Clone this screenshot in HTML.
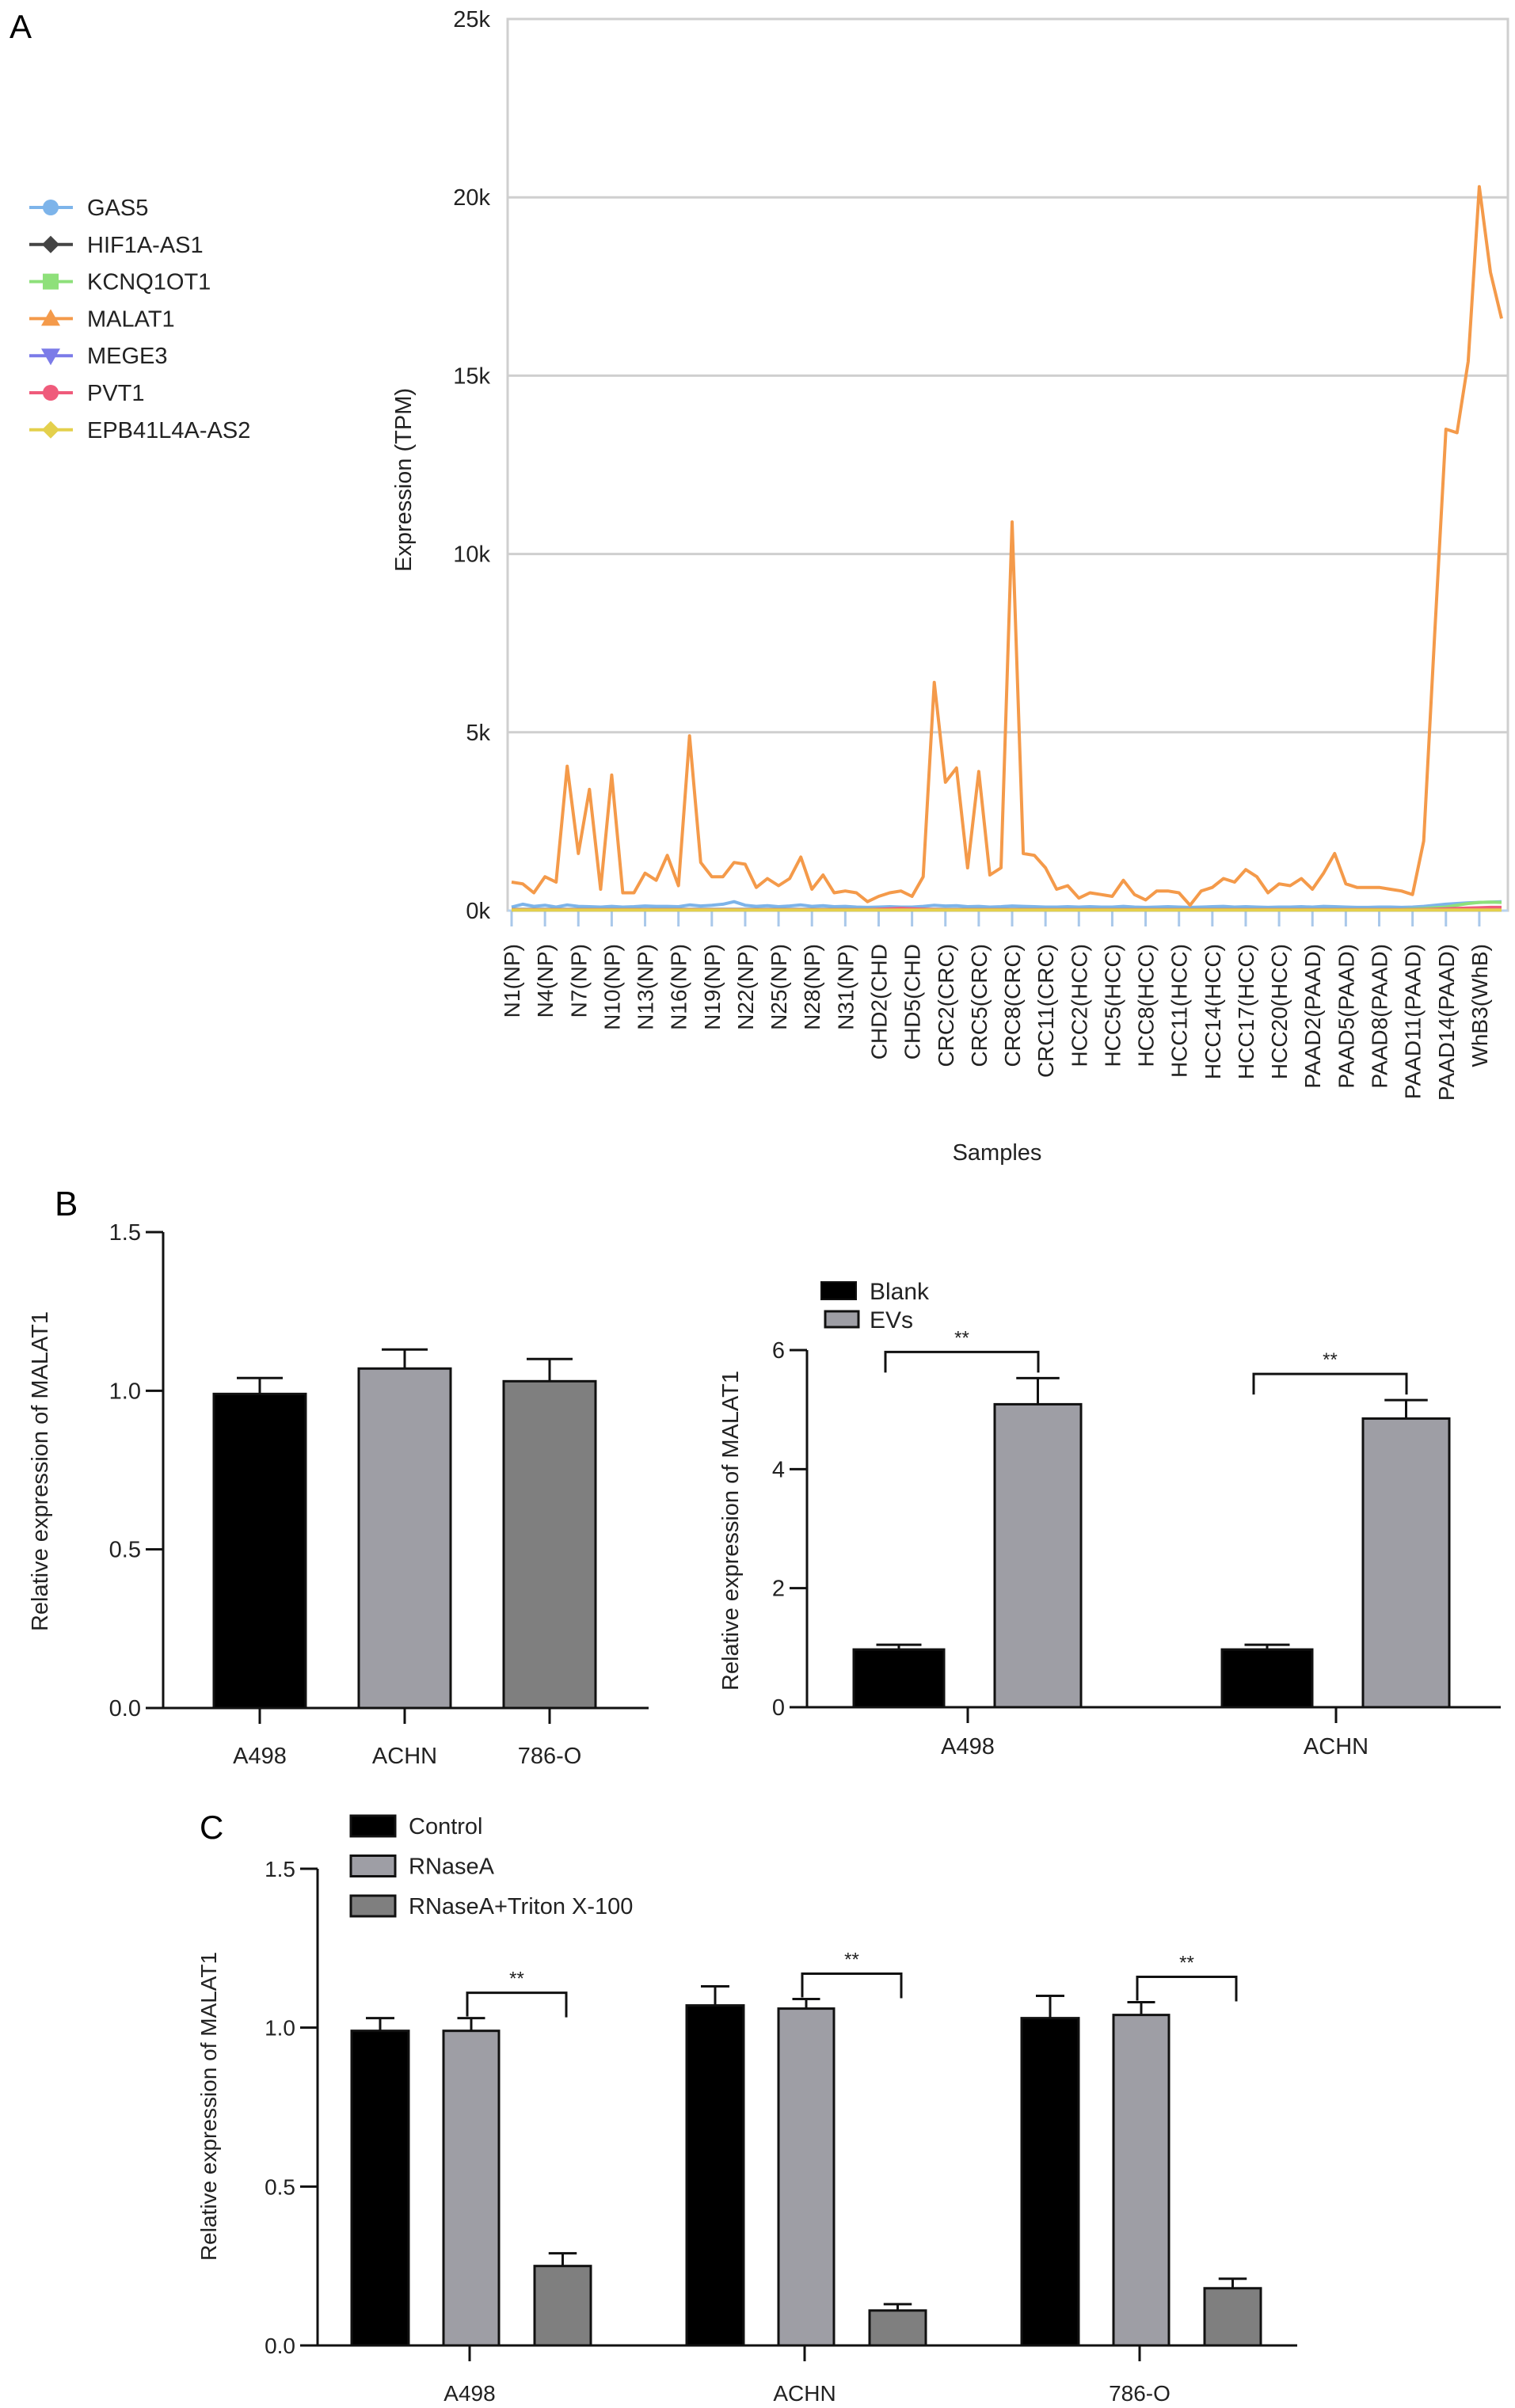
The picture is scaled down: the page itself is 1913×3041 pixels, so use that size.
<!DOCTYPE html>
<html><head><meta charset="utf-8">
<style>
html,body{margin:0;padding:0;background:#fff;}
svg{display:block;font-family:"Liberation Sans",Arial,sans-serif;}
</style></head>
<body>
<svg id="fig" width="1913" height="3041" viewBox="0 0 1913 3041" xmlns="http://www.w3.org/2000/svg">
<text x="12" y="48" font-size="42">A</text>
<text x="69" y="1535" font-size="44">B</text>
<text x="252" y="2322" font-size="42">C</text>
<g id="pa"></g>
<g id="pb1"></g>
<g id="pb2"></g>
<g id="pc"></g>
</svg>
<script>
// ---------- Panel A data ----------
const aTickLabels = ["N1(NP)","N4(NP)","N7(NP)","N10(NP)","N13(NP)","N16(NP)","N19(NP)","N22(NP)","N25(NP)","N28(NP)","N31(NP)","CHD2(CHD","CHD5(CHD","CRC2(CRC)","CRC5(CRC)","CRC8(CRC)","CRC11(CRC)","HCC2(HCC)","HCC5(HCC)","HCC8(HCC)","HCC11(HCC)","HCC14(HCC)","HCC17(HCC)","HCC20(HCC)","PAAD2(PAAD)","PAAD5(PAAD)","PAAD8(PAAD)","PAAD11(PAAD)","PAAD14(PAAD)","WhB3(WhB)"];
const aYTicks = [0,5000,10000,15000,20000,25000];
const aYTickLabels = ["0k","5k","10k","15k","20k","25k"];
const malat1 = [800,750,500,950,800,4050,1600,3400,600,3800,500,500,1050,850,1550,700,4900,1350,950,950,1350,1300,650,900,700,900,1500,600,1000,500,550,500,250,400,500,550,400,950,6400,3600,4000,1200,3900,1000,1200,10900,1600,1550,1200,600,700,350,500,450,400,850,450,300,550,550,500,150,550,650,900,800,1150,950,500,750,700,900,600,1050,1600,750,650,650,650,600,550,450,1950,7800,13500,13400,15400,20300,17900,16600];
const gas5 = [100,180,120,150,100,160,120,110,100,120,100,110,130,120,120,110,160,130,150,180,250,150,120,140,110,130,160,120,140,110,120,100,90,100,110,100,100,120,150,130,140,110,120,100,110,130,120,110,100,100,110,100,110,100,100,120,100,90,100,110,100,90,100,110,120,100,110,100,90,100,100,110,100,120,110,100,90,90,100,100,90,100,120,150,180,200,220,230,240,250];
const kcnq = [40,40,40,40,40,40,40,40,40,40,40,40,40,40,40,40,40,40,40,40,40,40,40,40,40,40,40,40,40,40,40,40,40,40,40,40,40,40,40,40,40,40,40,40,40,40,40,40,40,40,40,40,40,40,40,40,40,40,40,40,40,40,40,40,40,40,40,40,40,40,40,40,40,40,40,40,40,40,40,40,40,50,60,80,100,150,200,230,240,230];
const hif1a = [20,20,20,20,20,20,20,20,20,20,20,20,20,20,20,20,20,20,20,20,20,20,20,20,20,20,20,20,20,20,20,20,20,20,20,20,20,20,20,20,20,20,20,20,20,20,20,20,20,20,20,20,20,20,20,20,20,20,20,20,20,20,20,20,20,20,20,20,20,20,20,20,20,20,20,20,20,20,20,20,20,20,20,20,20,20,20,20,20,20];
const mege3 = [30,30,30,30,30,30,30,30,30,30,30,30,30,30,30,30,30,30,30,30,30,30,30,30,30,30,30,30,30,30,30,30,30,30,30,30,30,30,30,30,30,30,30,30,30,30,30,30,30,30,30,30,30,30,30,30,30,30,30,30,30,30,30,30,30,30,30,30,30,30,30,30,30,30,30,30,30,30,30,30,30,30,30,30,30,30,30,30,30,30];
const pvt1 = [25,25,25,25,25,25,25,25,25,25,25,25,25,25,25,25,25,25,25,25,25,25,25,25,25,25,25,25,25,25,25,25,25,40,50,60,50,40,30,25,25,25,25,25,25,25,25,25,25,25,25,25,25,25,25,25,25,25,25,25,25,25,25,25,25,25,25,25,25,25,25,25,25,25,25,25,25,25,25,25,25,25,30,40,50,60,70,80,90,90];
const epb = [15,15,15,15,15,15,15,15,15,15,15,15,15,15,15,15,15,15,15,15,15,15,15,15,15,15,15,15,15,15,15,15,15,15,15,15,15,15,15,15,15,15,15,15,15,15,15,15,15,15,15,15,15,15,15,15,15,15,15,15,15,15,15,15,15,15,15,15,15,15,15,15,15,15,15,15,15,15,15,15,15,15,15,15,15,15,15,15,15,15];
const legendNames = ["GAS5","HIF1A-AS1","KCNQ1OT1","MALAT1","MEGE3","PVT1","EPB41L4A-AS2"];
const legendColors = ["#7db4ea","#444444","#8ee07a","#f49a4a","#7b7be8","#ef5b7b","#e4d04c"];

// ---------- Panel B data ----------
const b1Cats = ["A498","ACHN","786-O"];
const b1Vals = [0.99,1.07,1.03];
const b1Errs = [0.05,0.06,0.07];
const b1Ticks = [0,0.5,1.0,1.5];
const b1TickLabels = ["0.0","0.5","1.0","1.5"];
const b2Cats = ["A498","ACHN"];
const b2Blank = [0.97,0.97];
const b2BlankErr = [0.08,0.08];
const b2EVs = [5.09,4.85];
const b2EVsErr = [0.44,0.31];
const b2Ticks = [0,2,4,6];
const b2TickLabels = ["0","2","4","6"];

// ---------- Panel C data ----------
const cCats = ["A498","ACHN","786-O"];
const cControl = [0.99,1.07,1.03];
const cControlErr = [0.04,0.06,0.07];
const cRNase = [0.99,1.06,1.04];
const cRNaseErr = [0.04,0.03,0.04];
const cTriton = [0.25,0.11,0.18];
const cTritonErr = [0.04,0.02,0.03];
const cTicks = [0,0.5,1.0,1.5];
const cTickLabels = ["0.0","0.5","1.0","1.5"];

const NS = "http://www.w3.org/2000/svg";
function mk(parent, tag, attrs, txt){
  const e = document.createElementNS(NS, tag);
  for (const k in attrs) e.setAttribute(k, attrs[k]);
  if (txt !== undefined) e.textContent = txt;
  parent.appendChild(e);
  return e;
}

// ===== Panel A =====
(function(){
  const g = document.getElementById('pa');
  const L=641, R=1904, T=24, B=1150, N=malat1.length;
  const x = i => 646 + i*(1896-646)/(N-1);
  const y = v => B - v/25000*(B-T);
  const frame = mk(g,'rect',{x:L,y:T,width:R-L,height:B-T,fill:'none',stroke:'#cfcfcf','stroke-width':3});
  
  
  aYTicks.forEach((v,i)=>{
    if (v>0 && v<25000){
      const gl = mk(g,'line',{x1:L,x2:R,y1:y(v),y2:y(v),stroke:'#cfcfcf','stroke-width':3});
      
      
    }
    const t = mk(g,'text',{x:619,y:y(v)+10,'font-size':29,'text-anchor':'end',fill:'#222'},aYTickLabels[i]);
    
    
  });
  const ax = mk(g,'line',{x1:L,x2:R,y1:B,y2:B,stroke:'#b9d3ee','stroke-width':3});
  
  
  aTickLabels.forEach((lab,k)=>{
    const xi = x(k*3);
    const tk = mk(g,'line',{x1:xi,x2:xi,y1:B,y2:B+20,stroke:'#a9c8ea','stroke-width':3});
    
    
    const t = mk(g,'text',{x:0,y:0,'font-size':28,'text-anchor':'end',fill:'#222',transform:`translate(${xi+10},1192) rotate(-90)`},lab);
    
    
  });
  const series = [[gas5,0],[hif1a,1],[kcnq,2],[mege3,4],[pvt1,5],[epb,6],[malat1,3]];
  series.forEach(([arr,ci])=>{
    const d = arr.map((v,i)=>(i?'L':'M')+x(i).toFixed(1)+','+y(v).toFixed(1)).join(' ');
    const p = mk(g,'path',{d:d,fill:'none',stroke:legendColors[ci],'stroke-width':4,'stroke-linejoin':'round'});
    
    
  });
  legendNames.forEach((n,i)=>{
    const yy = 262 + i*46.8;
    const lg = mk(g,'g',{});
    
    
    mk(lg,'line',{x1:37,x2:92,y1:yy,y2:yy,stroke:legendColors[i],'stroke-width':4});
    const c = legendColors[i];
    if (i===0||i===5) mk(lg,'circle',{cx:64,cy:yy,r:10,fill:c});
    else if (i===1||i===6) mk(lg,'polygon',{points:`64,${yy-11} 75,${yy} 64,${yy+11} 53,${yy}`,fill:c});
    else if (i===2) mk(lg,'rect',{x:54,y:yy-10,width:20,height:20,fill:c});
    else if (i===3) mk(lg,'polygon',{points:`64,${yy-12} 76,${yy+9} 52,${yy+9}`,fill:c});
    else mk(lg,'polygon',{points:`64,${yy+12} 76,${yy-9} 52,${yy-9}`,fill:c});
    mk(lg,'text',{x:110,y:yy+10,'font-size':29,fill:'#222'},n);
  });
  const yt = mk(g,'text',{x:0,y:0,'font-size':29,'text-anchor':'middle',fill:'#222',transform:'translate(519,606) rotate(-90)'},'Expression (TPM)');
  
  
  const xt = mk(g,'text',{x:1259,y:1465,'font-size':29,'text-anchor':'middle',fill:'#222'},'Samples');
  
  
})();

function axes(g, ax, yB, yT, xR, ticks, labels, vmax, titleX, titleY, fs){
  const y = v => yB - v/vmax*(yB-yT);
  const yl = mk(g,'line',{x1:ax,x2:ax,y1:yB,y2:yT,stroke:'#111','stroke-width':3});
  
  
  const xl = mk(g,'line',{x1:ax,x2:xR,y1:yB,y2:yB,stroke:'#111','stroke-width':3});
  
  
  ticks.forEach((v,i)=>{
    mk(g,'line',{x1:ax-22,x2:ax,y1:y(v),y2:y(v),stroke:'#111','stroke-width':3});
    const t = mk(g,'text',{x:ax-28,y:y(v)+10,'font-size':fs,'text-anchor':'end',fill:'#222'},labels[i]);
    
    
  });
  const tt = mk(g,'text',{x:0,y:0,'font-size':fs,'text-anchor':'middle',fill:'#222',transform:`translate(${titleX},${titleY}) rotate(-90)`},'Relative expression of MALAT1');
  
  
  return y;
}
function bar(g, x0, x1, v, e, y, fill, name){
  const b = mk(g,'rect',{x:x0,y:y(v),width:x1-x0,height:y(0)-y(v),fill:fill,stroke:'#111','stroke-width':3});
  
  
  const xm=(x0+x1)/2, w=(x1-x0)*0.25;
  mk(g,'path',{d:`M${xm},${y(v)} V${y(v+e)} M${xm-w},${y(v+e)} H${xm+w}`,stroke:'#111','stroke-width':3,fill:'none'});
}
function bracket(g,x0,x1,yTop,yL,yR){
  const br = mk(g,'path',{d:`M${x0},${yL} V${yTop} H${x1} V${yR}`,stroke:'#111','stroke-width':3,fill:'none'});
  
  
  const s = mk(g,'text',{x:(x0+x1)/2,y:yTop-10,'font-size':24,'text-anchor':'middle',fill:'#222'},'**');
  
  
}
function catLabel(g,xc,yB,yl,txt,fs){
  mk(g,'line',{x1:xc,x2:xc,y1:yB,y2:yB+20,stroke:'#111','stroke-width':3});
  const t = mk(g,'text',{x:xc,y:yl,'font-size':fs,'text-anchor':'middle',fill:'#222'},txt);
  
  
}

// ===== Panel B left =====
(function(){
  const g = document.getElementById('pb1');
  const y = axes(g,206,2157,1556,819,b1Ticks,b1TickLabels,1.5,60,1858,29);
  const fills = ["#000000","#9e9ea5","#7f7f7f"];
  b1Cats.forEach((c,i)=>{
    const xc = 328 + i*183;
    bar(g,xc-58,xc+58,b1Vals[i],b1Errs[i],y,fills[i],'bar-'+c.toLowerCase());
    catLabel(g,xc,2157,2227,c,29);
  });
})();

// ===== Panel B right =====
(function(){
  const g = document.getElementById('pb2');
  const y = axes(g,1019,2156,1705,1895,b2Ticks,b2TickLabels,6,932,1933,29);
  b2Cats.forEach((c,i)=>{
    const xc = 1222 + i*465;
    bar(g,xc-144,xc-30,b2Blank[i],b2BlankErr[i],y,'#000','bar-blank-'+c.toLowerCase());
    bar(g,xc+34,xc+143,b2EVs[i],b2EVsErr[i],y,'#9e9ea5','bar-evs-'+c.toLowerCase());
    catLabel(g,xc,2156,2215,c,29);
    const top = y(b2EVs[i]+b2EVsErr[i]) - 33;
    bracket(g,xc-104,xc+89,top,top+26,top+26);
  });
  const l1 = mk(g,'g',{});
  
  
  mk(l1,'rect',{x:1037,y:1619,width:44,height:22,fill:'#000',stroke:'#111','stroke-width':2});
  mk(l1,'text',{x:1098,y:1641,'font-size':30,fill:'#222'},'Blank');
  const l2 = mk(g,'g',{});
  
  
  mk(l2,'rect',{x:1042,y:1656,width:42,height:20,fill:'#9e9ea5',stroke:'#111','stroke-width':3});
  mk(l2,'text',{x:1098,y:1677,'font-size':30,fill:'#222'},'EVs');
})();

// ===== Panel C =====
(function(){
  const g = document.getElementById('pc');
  const y = axes(g,401,2962,2360,1638,cTicks,cTickLabels,1.5,273,2660,28);
  cCats.forEach((c,i)=>{
    const xc = 593 + i*423;
    bar(g,xc-149,xc-77,cControl[i],cControlErr[i],y,'#000','bar-control-'+c.toLowerCase());
    bar(g,xc-33,xc+37,cRNase[i],cRNaseErr[i],y,'#9e9ea5','bar-rnasea-'+c.toLowerCase());
    bar(g,xc+82,xc+153,cTriton[i],cTritonErr[i],y,'#7f7f7f','bar-triton-'+c.toLowerCase());
    catLabel(g,xc,2962,3032,c,28);
    const top = y(cRNase[i]+cRNaseErr[i]) - 32;
    bracket(g,xc-3,xc+122,top,y(cRNase[i]+cRNaseErr[i])-2,top+31);
  });
  const names = ["Control","RNaseA","RNaseA+Triton X-100"];
  const fills = ["#000","#9e9ea5","#7f7f7f"];
  names.forEach((n,i)=>{
    const yy = 2306 + i*50.5;
    const lg = mk(g,'g',{});
    
    
    mk(lg,'rect',{x:443,y:yy-13,width:56,height:26,fill:fills[i],stroke:'#111','stroke-width':3});
    mk(lg,'text',{x:516,y:yy+10,'font-size':29,fill:'#222'},n);
  });
})();
</script>
</body></html>
